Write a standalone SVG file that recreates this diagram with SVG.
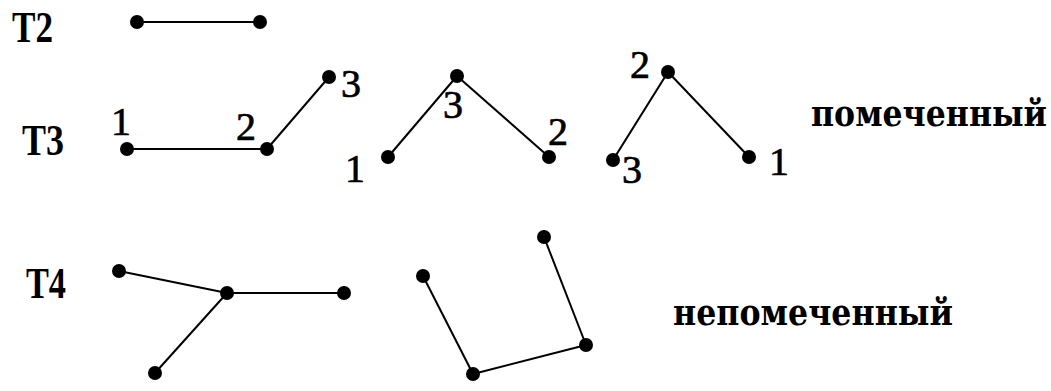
<svg xmlns="http://www.w3.org/2000/svg" width="1051" height="391" viewBox="0 0 1051 391">
  <style>
    .edge { stroke: #000; stroke-width: 2; fill: none; }
    .dot { fill: #000; }
    .tl { font-size: 44px; font-weight: bold; fill: #000; }
    .num { font-size: 40px; fill: #000; stroke: #000; stroke-width: 0.7; text-anchor: middle; }
    .word { font-size: 31px; font-weight: bold; fill: #000; }
  </style>
  <rect width="1051" height="391" fill="#fff"/>

  <g id="labels" font-family="Liberation Serif, serif">
    <text class="tl" x="12" y="42" textLength="41" lengthAdjust="spacingAndGlyphs">T2</text>
    <text class="tl" x="22" y="155" textLength="42" lengthAdjust="spacingAndGlyphs">T3</text>
    <text class="tl" x="26" y="298" textLength="40" lengthAdjust="spacingAndGlyphs">T4</text>
    <g font-family="DejaVu Serif, Liberation Serif, serif">
      <text class="word" transform="translate(811,126) scale(1,1.12)" x="0" y="0" textLength="236" lengthAdjust="spacingAndGlyphs">помеченный</text>
      <text class="word" transform="translate(673,325) scale(1,1.12)" x="0" y="0" textLength="280" lengthAdjust="spacingAndGlyphs">непомеченный</text>
    </g>
  </g>

  <g id="connectors">
    <line class="edge" x1="137" y1="22" x2="260" y2="22"/>
    <line class="edge" x1="127" y1="149" x2="267" y2="149"/>
    <line class="edge" x1="267" y1="149" x2="329" y2="77"/>
    <line class="edge" x1="388" y1="157" x2="457" y2="76"/>
    <line class="edge" x1="457" y1="76" x2="549" y2="157"/>
    <line class="edge" x1="613" y1="160" x2="668" y2="72"/>
    <line class="edge" x1="668" y1="72" x2="749" y2="157"/>
    <line class="edge" x1="119" y1="271" x2="227" y2="293"/>
    <line class="edge" x1="227" y1="293" x2="344" y2="293"/>
    <line class="edge" x1="227" y1="293" x2="155" y2="373"/>
    <line class="edge" x1="423" y1="276" x2="473" y2="374"/>
    <line class="edge" x1="473" y1="374" x2="586" y2="345"/>
    <line class="edge" x1="586" y1="345" x2="544" y2="237"/>
  </g>

  <g id="t2">
    <circle id="t2-a" class="dot" cx="137" cy="22" r="7"/>
    <circle id="t2-b" class="dot" cx="260" cy="22" r="7"/>
  </g>

  <g id="t3-a" font-family="Liberation Serif, serif">
    <circle class="dot" cx="127" cy="149" r="7"/>
    <circle class="dot" cx="267" cy="149" r="7"/>
    <circle class="dot" cx="329" cy="77" r="7"/>
    <text class="num" x="121" y="135">1</text>
    <text class="num" x="246" y="140">2</text>
    <text class="num" x="351" y="97">3</text>
  </g>

  <g id="t3-b" font-family="Liberation Serif, serif">
    <circle class="dot" cx="388" cy="157" r="7"/>
    <circle class="dot" cx="457" cy="76" r="7"/>
    <circle class="dot" cx="549" cy="157" r="7"/>
    <text class="num" x="355" y="182">1</text>
    <text class="num" x="453" y="118">3</text>
    <text class="num" x="558" y="145">2</text>
  </g>

  <g id="t3-c" font-family="Liberation Serif, serif">
    <circle class="dot" cx="613" cy="160" r="7"/>
    <circle class="dot" cx="668" cy="72" r="7"/>
    <circle class="dot" cx="749" cy="157" r="7"/>
    <text class="num" x="640" y="78">2</text>
    <text class="num" x="632" y="183">3</text>
    <text class="num" x="779" y="175">1</text>
  </g>

  <g id="t4-a">
    <circle class="dot" cx="119" cy="271" r="7"/>
    <circle class="dot" cx="227" cy="293" r="7"/>
    <circle class="dot" cx="344" cy="293" r="7"/>
    <circle class="dot" cx="155" cy="373" r="7"/>
  </g>

  <g id="t4-b">
    <circle class="dot" cx="423" cy="276" r="7"/>
    <circle class="dot" cx="544" cy="237" r="7"/>
    <circle class="dot" cx="586" cy="345" r="7"/>
    <circle class="dot" cx="473" cy="374" r="7"/>
  </g>
</svg>
